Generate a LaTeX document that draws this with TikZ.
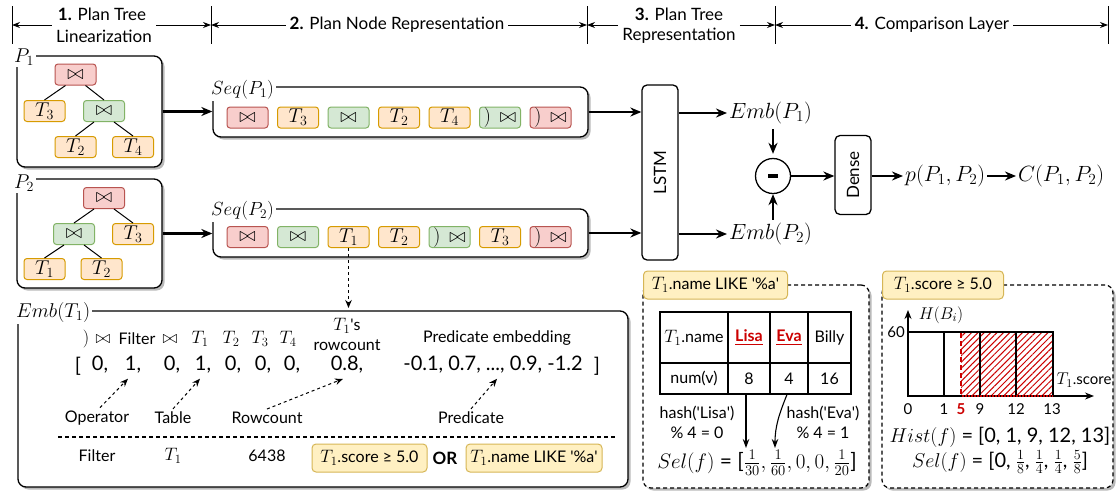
\RequirePackage{fix-cm}
\documentclass[tikz,border=0pt]{standalone}
\usepackage{amsmath,amssymb}
\usepackage[no-math]{fontspec}
\setmainfont{Lato}
\usetikzlibrary{arrows.meta,shadows,patterns.meta,calc}

\definecolor{redF}{HTML}{F8CECC}
\definecolor{redD}{HTML}{B85450}
\definecolor{grnF}{HTML}{D5E8D4}
\definecolor{grnD}{HTML}{82B366}
\definecolor{orgF}{HTML}{FFE6CC}
\definecolor{orgD}{HTML}{D79B00}
\definecolor{yelF}{HTML}{FFF0C2}
\definecolor{yelD}{HTML}{D6B656}
\definecolor{hred}{HTML}{CC0000}
\newcommand{\myfs}[1]{\fontsize{#1}{#1}\selectfont}
\newcommand{\sq}{\textquotesingle}

\begin{document}
\begin{tikzpicture}[x=1pt,y=-1pt,
  harr/.style={-{Stealth[length=8pt,width=6pt]}, line width=1pt},
  arr/.style={-{Stealth[length=11pt,width=9pt]}, line width=2.2pt},
  tarr/.style={-{Stealth[length=9pt,width=6.5pt]}, line width=1.1pt},
  darr/.style={-{Stealth[length=8pt,width=6.5pt]}, line width=1pt, dash pattern=on 3pt off 3pt},
  hdr/.style={font=\myfs{17}, inner sep=4pt},
  tnode/.style={rounded corners=3pt, minimum width=41pt, minimum height=21pt, inner sep=0pt, line width=1pt, font=\myfs{20}},
  rj/.style={tnode, fill=redF, draw=redD},
  gj/.style={tnode, fill=grnF, draw=grnD},
  tb/.style={tnode, fill=orgF, draw=orgD},
  cont/.style={draw, line width=1.3pt, rounded corners=8pt, fill=white, inner sep=0pt, drop shadow={shadow xshift=2.5pt, shadow yshift=-2.5pt, fill=black!45, opacity=0.6}},
  dbox/.style={cont, line width=1.2pt, dash pattern=on 4pt off 3pt},
  clabel/.style={fill=white, inner sep=2pt, font=\myfs{20}},
  ylab/.style={fill=yelF, draw=yelD, line width=1pt, rounded corners=4pt, minimum height=28pt, inner sep=3pt, font=\myfs{16}},
  txt/.style={font=\myfs{16}, inner sep=1pt},
  mtxt/.style={font=\myfs{18}, inner sep=1pt},
  stxt/.style={font=\myfs{15}, inner sep=1pt},
  big/.style={font=\myfs{20}, inner sep=1pt},
  mlab/.style={font=\myfs{22}, inner sep=2pt},
  cell/.style={draw, line width=1.1pt, inner sep=0pt, font=\myfs{16}},
]
\useasboundingbox (0,0) rectangle (1119,496);

% ---------------- header ----------------
\coordinate (t0) at (12,25);
\coordinate (t1) at (211,25);
\coordinate (t2) at (587,25);
\coordinate (t3) at (775,25);
\coordinate (t4) at (1108,25);
\foreach \t in {t0,t1,t2,t3,t4} \draw[line width=1pt] (\t) ++(0,-19) -- ++(0,38);
\node[hdr] (h1a) at (102,14) {\textbf{1.} Plan Tree};
\node[hdr] (h1b) at (104,36) {Linearization};
\node[hdr] (h2) at (397,25) {\textbf{2.} Plan Node Representation};
\node[hdr] (h3a) at (679,14) {\textbf{3.} Plan Tree};
\node[hdr] (h3b) at (679,36) {Representation};
\node[hdr] (h4) at (932,25) {\textbf{4.} Comparison Layer};
\draw[harr] (h1b.west |- t0) -- (t0);
\draw[harr] (h1b.east |- t1) -- (t1);
\draw[harr] (h2.west) -- (t1);
\draw[harr] (h2.east) -- (t2);
\draw[harr] (h3b.west |- t2) -- (t2);
\draw[harr] (h3b.east |- t3) -- (t3);
\draw[harr] (h4.west) -- (t3);
\draw[harr] (h4.east) -- (t4);

% ---------------- plan trees ----------------
\node[cont, minimum width=145pt, minimum height=111pt] (p1box) at (89.5,111.5) {};
\node[clabel] (p1lab) at (24,57) {$P_1$};
\node[rj] (a1) at (75.5,74.5) {$\bowtie$};
\node[tb] (a2) at (44.5,111) {$T_3$};
\node[gj] (a3) at (104,111) {$\bowtie$};
\node[tb] (a4) at (75.5,147) {$T_2$};
\node[tb] (a5) at (133,147) {$T_4$};
\draw[line width=1pt] ([xshift=-10pt]a1.south) -- (a2.north);
\draw[line width=1pt] ([xshift=10pt]a1.south) -- (a3.north);
\draw[line width=1pt] ([xshift=-10pt]a3.south) -- (a4.north);
\draw[line width=1pt] ([xshift=10pt]a3.south) -- (a5.north);

\node[cont, minimum width=145pt, minimum height=109pt] (p2box) at (89.5,233.5) {};
\node[clabel] (p2lab) at (24,183) {$P_2$};
\node[rj] (b1) at (104,198) {$\bowtie$};
\node[gj] (b2) at (74,234) {$\bowtie$};
\node[tb] (b3) at (133,234) {$T_3$};
\node[tb] (b4) at (44.5,269) {$T_1$};
\node[tb] (b5) at (101.5,269) {$T_2$};
\draw[line width=1pt] ([xshift=-10pt]b1.south) -- (b2.north);
\draw[line width=1pt] ([xshift=10pt]b1.south) -- (b3.north);
\draw[line width=1pt] ([xshift=-10pt]b2.south) -- (b4.north);
\draw[line width=1pt] ([xshift=10pt]b2.south) -- (b5.north);

% ---------------- sequences ----------------
\node[cont, minimum width=375pt, minimum height=50pt] (seq1) at (400.5,112) {};
\node[clabel, anchor=west, font=\myfs{19}] (seq1lab) at (209,90) {$Seq(P_1)$};
\node[rj] (s1a) at (247.5,117.5) {$\bowtie$};
\node[tb] (s1b) at (298,117.5) {$T_3$};
\node[gj] (s1c) at (348.5,117.5) {$\bowtie$};
\node[tb] (s1d) at (399,117.5) {$T_2$};
\node[tb] (s1e) at (449.5,117.5) {$T_4$};
\node[gj] (s1f) at (500,117.5) {$)\,\bowtie$};
\node[rj] (s1g) at (550.5,117.5) {$)\,\bowtie$};

\node[cont, minimum width=375pt, minimum height=48pt] (seq2) at (400.5,233) {};
\node[clabel, anchor=west, font=\myfs{19}] (seq2lab) at (209,211) {$Seq(P_2)$};
\node[rj] (s2a) at (247.5,237) {$\bowtie$};
\node[gj] (s2b) at (298,237) {$\bowtie$};
\node[tb] (s2c) at (348.5,237) {$T_1$};
\node[tb] (s2d) at (399,237) {$T_2$};
\node[gj] (s2e) at (449.5,237) {$)\,\bowtie$};
\node[tb] (s2f) at (500,237) {$T_3$};
\node[rj] (s2g) at (550.5,237) {$)\,\bowtie$};

\draw[arr] (p1box.east) -- (p1box.east -| seq1.west);
\draw[arr] (p2box.east) -- (p2box.east -| seq2.west);

% ---------------- LSTM & comparison ----------------
\node[draw, line width=1.3pt, rounded corners=5pt, fill=white, minimum width=36pt, minimum height=175pt] (lstm) at (660,172.5) {};
\node[rotate=90, font=\myfs{17}] (lstmt) at (lstm) {LSTM};
\draw[arr] (seq1.east) -- (seq1.east -| lstm.west);
\draw[arr] (seq2.east) -- (seq2.east -| lstm.west);
\node[mlab, anchor=west] (e1) at (727,113) {$Emb(P_1)$};
\node[mlab, anchor=west] (e2) at (727,234) {$Emb(P_2)$};
\draw[arr] (lstm.east |- e1.west) -- (e1.west);
\draw[arr] (lstm.east |- e2.west) -- (e2.west);
\node[circle, draw, line width=1.3pt, minimum size=35pt, inner sep=0pt, fill=white] (minus) at (773,176) {\rule{10pt}{3.5pt}};
\draw[arr] ([yshift=-3pt]e1.south -| minus) -- ([yshift=4pt]minus.north);
\draw[arr] ([yshift=1pt]e2.north -| minus) -- (minus.south);
\node[draw, line width=1.3pt, rounded corners=5pt, fill=white, minimum width=36pt, minimum height=79pt] (dense) at (853,175) {};
\node[rotate=90, font=\myfs{17}] (denset) at (dense) {Dense};
\draw[arr] (minus.east) -- (minus.east -| dense.west);
\node[mlab, anchor=west] (pp) at (903,176) {$p(P_1,P_2)$};
\node[mlab, anchor=west] (cc) at (1016,176) {$C(P_1,P_2)$};
\draw[arr] (dense.east |- pp.west) -- (pp.west);
\draw[arr] (pp.east) -- (cc.west);

% ---------------- Emb(T1) box ----------------
\node[cont, minimum width=610pt, minimum height=176pt] (embbox) at (323,399) {};
\node[clabel, anchor=west, font=\myfs{20}] (emblab) at (14,312) {$Emb(T_1)$};
\coordinate (rctop) at (348.5,308);
\draw[darr] (s2c.south) -- (rctop);

\node[mtxt] (hp) at (86,339) {$)$};
\node[mtxt] (hj1) at (103,339) {$\bowtie$};
\node[txt] (hf) at (137,339) {Filter};
\node[mtxt] (hj2) at (170,339) {$\bowtie$};
\node[mtxt] (ht1) at (200,339) {$T_1$};
\node[mtxt] (ht2) at (231,339) {$T_2$};
\node[mtxt] (ht3) at (260,339) {$T_3$};
\node[mtxt] (ht4) at (288,339) {$T_4$};
\node[txt] (rc1) at (347,326) {{\myfs{18}$T_1$}\sq s};
\node[txt] (rc2) at (347,345) {rowcount};
\node[txt] (pe) at (497,338) {Predicate embedding};

\node[big] (vb) at (78,366) {[};
\node[big] (v1) at (100,365) {0,};
\node[big] (v2) at (133,365) {1,};
\node[big] (v3) at (172,365) {0,};
\node[big] (v4) at (203,365) {1,};
\node[big] (v5) at (233,365) {0,};
\node[big] (v6) at (263,365) {0,};
\node[big] (v7) at (292,365) {0,};
\node[big] (v8) at (347,365) {0.8,};
\node[big] (v9) at (493,365) {-0.1, 0.7, ..., 0.9, -1.2};
\node[big] (ve) at (597,366) {]};

\node[txt] (lop) at (97,418) {Operator};
\node[txt] (ltb) at (173,418) {Table};
\node[txt] (lrc) at (267,418) {Rowcount};
\node[txt] (lpr) at (471,418) {Predicate};
\draw[darr] ([xshift=3pt,yshift=2pt]lop.north) -- ([xshift=-5pt,yshift=-4pt]v2.south);
\draw[darr] ([yshift=2pt]ltb.north) -- ([xshift=-3pt,yshift=-4pt]v4.south);
\draw[darr] ([yshift=2pt]lrc.north) -- ([xshift=-4pt,yshift=-4pt]v8.south);
\draw[darr] ([yshift=2pt]lpr.north) -- ([xshift=4pt,yshift=-4pt]v9.south);

\draw[line width=1.1pt, dash pattern=on 4pt off 3pt] (58,437) -- (617,437);
\node[txt] (bf) at (97,456) {Filter};
\node[mtxt] (bt) at (173,456) {$T_1$};
\node[txt] (bn) at (267,456) {6438};
\node[ylab, minimum width=115pt] (bp1) at (369.5,458) {{\myfs{18}$T_1$}.score ≥ 5.0};
\node[txt, font=\myfs{17}] (bor) at (445,458) {\textbf{OR}};
\node[ylab, minimum width=136pt] (bp2) at (534,458) {{\myfs{18}$T_1$}.name LIKE \sq\%a\sq};

% ---------------- LIKE box ----------------
\node[dbox, minimum width=226pt, minimum height=203pt] (likebox) at (756,386.5) {};
\node[ylab, anchor=west, minimum width=144pt] (likelab) at (643,285) {{\myfs{18}$T_1$}.name LIKE \sq\%a\sq};
\node[cell, minimum width=68pt, minimum height=51pt] (c11) at (694,337.5) {{\myfs{18}$T_1$}.name};
\node[cell, minimum width=42pt, minimum height=51pt] (c12) at (749,337.5) {\textcolor{hred}{\underline{\textbf{Lisa}}}};
\node[cell, minimum width=38pt, minimum height=51pt] (c13) at (789,337.5) {\textcolor{hred}{\underline{\textbf{Eva}}}};
\node[cell, minimum width=43pt, minimum height=51pt] (c14) at (829.5,337.5) {Billy};
\node[cell, minimum width=68pt, minimum height=31pt] (c21) at (694,378.5) {num(v)};
\node[cell, minimum width=42pt, minimum height=31pt] (c22) at (749,378.5) {8};
\node[cell, minimum width=38pt, minimum height=31pt] (c23) at (789,378.5) {4};
\node[cell, minimum width=43pt, minimum height=31pt] (c24) at (829.5,378.5) {16};
\node[txt] (hl1) at (697,413) {hash(\sq Lisa\sq)};
\node[txt] (hl2) at (697,433) {\% 4 = 0};
\node[txt] (he1) at (823,413) {hash(\sq Eva\sq)};
\node[txt] (he2) at (823,433) {\% 4 = 1};
\node[big, font=\myfs{21}] (sel1) at (757,463) {$Sel(f)$ = [$\frac{1}{30}, \frac{1}{60}, 0, 0, \frac{1}{20}$]};
\coordinate (selA) at (746,448);
\coordinate (selB) at (775,448);
\draw[tarr] ([xshift=-3pt]c22.south) -- (selA);
\draw[tarr] ([xshift=-2pt]c23.south) to[out=-112,in=90] (selB);

% ---------------- histogram box ----------------
\node[dbox, minimum width=231pt, minimum height=203pt] (histbox) at (997.5,386.5) {};
\node[ylab, anchor=west, minimum width=121pt] (histlab) at (882,285) {{\myfs{18}$T_1$}.score ≥ 5.0};
\fill[pattern={Lines[angle=45,distance=4.5pt,line width=1pt]}, pattern color=hred] (961,332) rectangle (1053,396);
\draw[line width=1.2pt] (908,332) rectangle (944,396);
\draw[line width=1.2pt] (944,332) rectangle (980,396);
\draw[line width=1.2pt] (980,332) rectangle (1016,396);
\draw[line width=1.2pt] (1016,332) rectangle (1053,396);
\draw[hred, line width=2.5pt, dash pattern=on 5pt off 3pt] (961,333) -- (961,395);
\draw[-{Stealth[length=9pt,width=7pt]}, line width=1.2pt] (908,396) -- (908,310);
\draw[-{Stealth[length=9pt,width=7pt]}, line width=1.2pt] (908,396) -- (1094,396);
\draw[hred, line width=1.2pt, dash pattern=on 1.5pt off 1.5pt] (962,396) -- (1053,396);
\node[stxt] (y60) at (896,332) {60};
\node[stxt, font=\myfs{17}] (hb) at (941,315) {$H(B_i)$};
\node[stxt] (xs) at (1084,380) {{\myfs{17}$T_1$}.score};
\node[stxt] (x0) at (908,409) {0};
\node[stxt] (x1) at (944,409) {1};
\node[stxt, text=hred] (x5) at (961,409) {\textbf{5}};
\node[stxt] (x9) at (980,409) {9};
\node[stxt] (x12) at (1016,409) {12};
\node[stxt] (x13) at (1052,409) {13};
\node[big, font=\myfs{20}] (hist) at (1000,437) {$Hist(f)$ = [0, 1, 9, 12, 13]};
\node[big, font=\myfs{20}] (sel2) at (1000,462) {$Sel(f)$ = [0, $\frac{1}{8}$, $\frac{1}{4}$, $\frac{1}{4}$, $\frac{5}{8}$]};
\end{tikzpicture}
\end{document}
